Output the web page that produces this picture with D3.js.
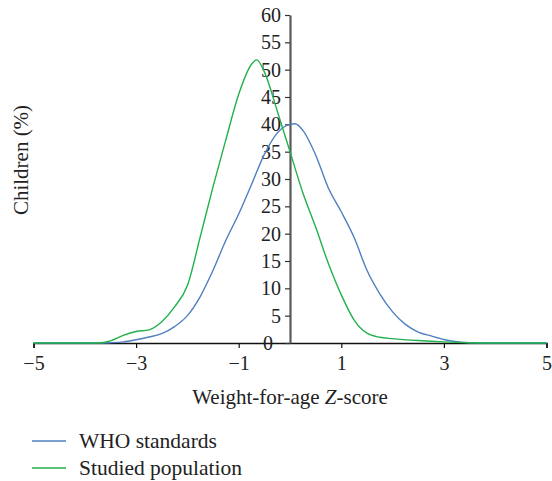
<!DOCTYPE html>
<html>
<head>
<meta charset="utf-8">
<script src="https://cdn.jsdelivr.net/npm/d3@7"></script>
<style>
  html, body { margin: 0; padding: 0; background: #fff; }
  svg { display: block; }
  text { font-family: "Liberation Serif", "Times New Roman", serif; fill: #222; }
</style>
</head>
<body>
<svg id="chart" width="552" height="481"></svg>
<script>
// ---- data ----
const zScores = [-5, -4, -3.75, -3.5, -3.25, -3, -2.75, -2.5, -2.25, -2, -1.75, -1.5, -1.25, -1, -0.75, -0.5, -0.25, 0, 0.1, 0.25, 0.5, 0.75, 1, 1.25, 1.5, 1.75, 2, 2.25, 2.5, 2.75, 3, 3.25, 3.5, 4, 5];
const whoValues = [0, 0, 0, 0.05, 0.2, 0.6, 1.1, 1.7, 3.0, 5.0, 8.5, 13.3, 18.8, 23.6, 29.0, 34.5, 38.4, 40.0, 40.1, 38.9, 34.4, 28.3, 24.0, 19.3, 13.3, 9.0, 5.7, 3.4, 2.0, 1.3, 0.65, 0.25, 0.05, 0, 0];

const zScoresStudied = [-5, -4, -3.75, -3.5, -3.25, -3, -2.75, -2.5, -2.25, -2, -1.75, -1.5, -1.25, -1, -0.75, -0.65, -0.5, -0.25, 0, 0.25, 0.5, 0.75, 1, 1.25, 1.5, 1.75, 2, 2.5, 3, 3.5, 4, 5];
const studiedValues = [0, 0, 0, 0.4, 1.4, 2.1, 2.4, 3.9, 6.6, 10.5, 19.4, 28.6, 37.2, 45.5, 51.0, 51.8, 49.6, 42.5, 35.0, 27.5, 21.2, 14.5, 8.8, 4.2, 1.8, 1.05, 0.8, 0.45, 0.2, 0.05, 0, 0];

const xTicks = [-5, -3, -1, 1, 3, 5];
const yTicks = [0, 5, 10, 15, 20, 25, 30, 35, 40, 45, 50, 55, 60];
const seriesNames = ["WHO standards", "Studied population"];
const seriesColors = ["#4f7fc0", "#22b14c"];

// ---- layout ----
const svg = d3.select("#chart");
const x = d3.scaleLinear().domain([-5, 5]).range([33.5, 546.5]);
const y = d3.scaleLinear().domain([0, 60]).range([343, 15]);

const minus = s => String(s).replace("-", "\u2212");

// x axis
const xAxis = svg.append("g").attr("transform", `translate(0,${y(0)})`)
  .call(d3.axisBottom(x).tickValues(xTicks).tickSize(5).tickPadding(8).tickFormat(minus));
xAxis.select(".domain").attr("stroke", "#111").attr("stroke-width", 1.5);
xAxis.selectAll(".tick line").attr("stroke", "#111").attr("stroke-width", 1.2);
xAxis.selectAll(".tick text").attr("font-size", 20).attr("fill", "#222")
  .attr("font-family", '"Liberation Serif", serif');

// y axis at x = 0
const yAxis = svg.append("g").attr("transform", `translate(${x(0)},0)`)
  .call(d3.axisLeft(y).tickValues(yTicks).tickSize(5).tickPadding(4).tickSizeOuter(0));
yAxis.select(".domain").attr("stroke", "#595959").attr("stroke-width", 2.2);
yAxis.selectAll(".tick line").attr("stroke", "#333").attr("stroke-width", 1.2);
yAxis.selectAll(".tick text").attr("font-size", 20).attr("fill", "#222")
  .attr("font-family", '"Liberation Serif", serif')
  .attr("dx", d => d === 0 ? -8 : 0);

// lines
const line = d3.line().curve(d3.curveMonotoneX);
const seriesData = [
  d3.zip(zScores, whoValues),
  d3.zip(zScoresStudied, studiedValues)
];
seriesData.forEach((pts, i) => {
  svg.append("path")
    .attr("d", line(pts.map(([zz, v]) => [x(zz), y(v)])))
    .attr("fill", "none")
    .attr("stroke", seriesColors[i])
    .attr("stroke-width", 1.4);
});

// axis titles
const xt = svg.append("text").attr("x", x(0)).attr("y", 404)
  .attr("text-anchor", "middle").attr("font-size", 21);
xt.append("tspan").text("Weight-for-age ");
xt.append("tspan").attr("font-style", "italic").text("Z");
xt.append("tspan").text("-score");

svg.append("text")
  .attr("transform", "translate(28,160) rotate(-90)")
  .attr("text-anchor", "middle").attr("font-size", 21)
  .text("Children (%)");

// legend
const legend = svg.append("g");
seriesNames.forEach((name, i) => {
  const ly = 441 + i * 27;
  legend.append("line").attr("x1", 32).attr("x2", 66).attr("y1", ly).attr("y2", ly)
    .attr("stroke", seriesColors[i]).attr("stroke-width", 1.5);
  legend.append("text").attr("x", 79).attr("y", ly + 6.5).attr("font-size", 21.5).text(name);
});
</script>
</body>
</html>
